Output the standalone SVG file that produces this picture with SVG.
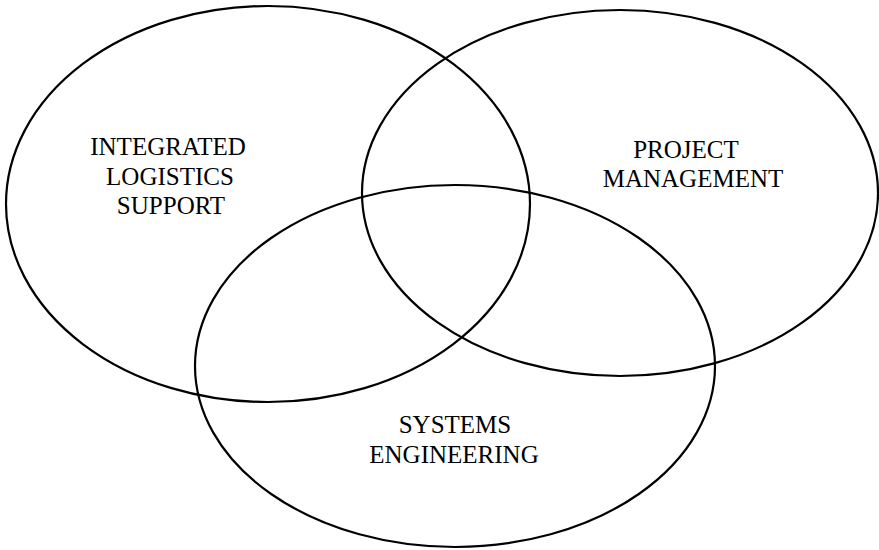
<svg xmlns="http://www.w3.org/2000/svg" width="879" height="550" viewBox="0 0 879 550">
<style>
.c{fill:none;stroke:#000;stroke-width:2.2}
.t{font-family:"Liberation Serif","Times New Roman",serif;font-size:25px;fill:#000;text-anchor:middle}
</style>
<rect width="879" height="550" fill="#fff"/>
<g id="connectors"></g>
<g id="ils">
<ellipse class="c" cx="268" cy="204" rx="262" ry="198"/>
<text class="t" x="168" y="155">INTEGRATED</text>
<text class="t" x="170" y="185">LOGISTICS</text>
<text class="t" x="171" y="214">SUPPORT</text>
</g>
<g id="pm">
<ellipse class="c" cx="620" cy="193" rx="258" ry="183"/>
<text class="t" x="686" y="158">PROJECT</text>
<text class="t" x="693" y="187">MANAGEMENT</text>
</g>
<g id="se">
<ellipse class="c" cx="455" cy="366" rx="260" ry="181"/>
<text class="t" x="455" y="433">SYSTEMS</text>
<text class="t" x="454" y="463">ENGINEERING</text>
</g>
</svg>
